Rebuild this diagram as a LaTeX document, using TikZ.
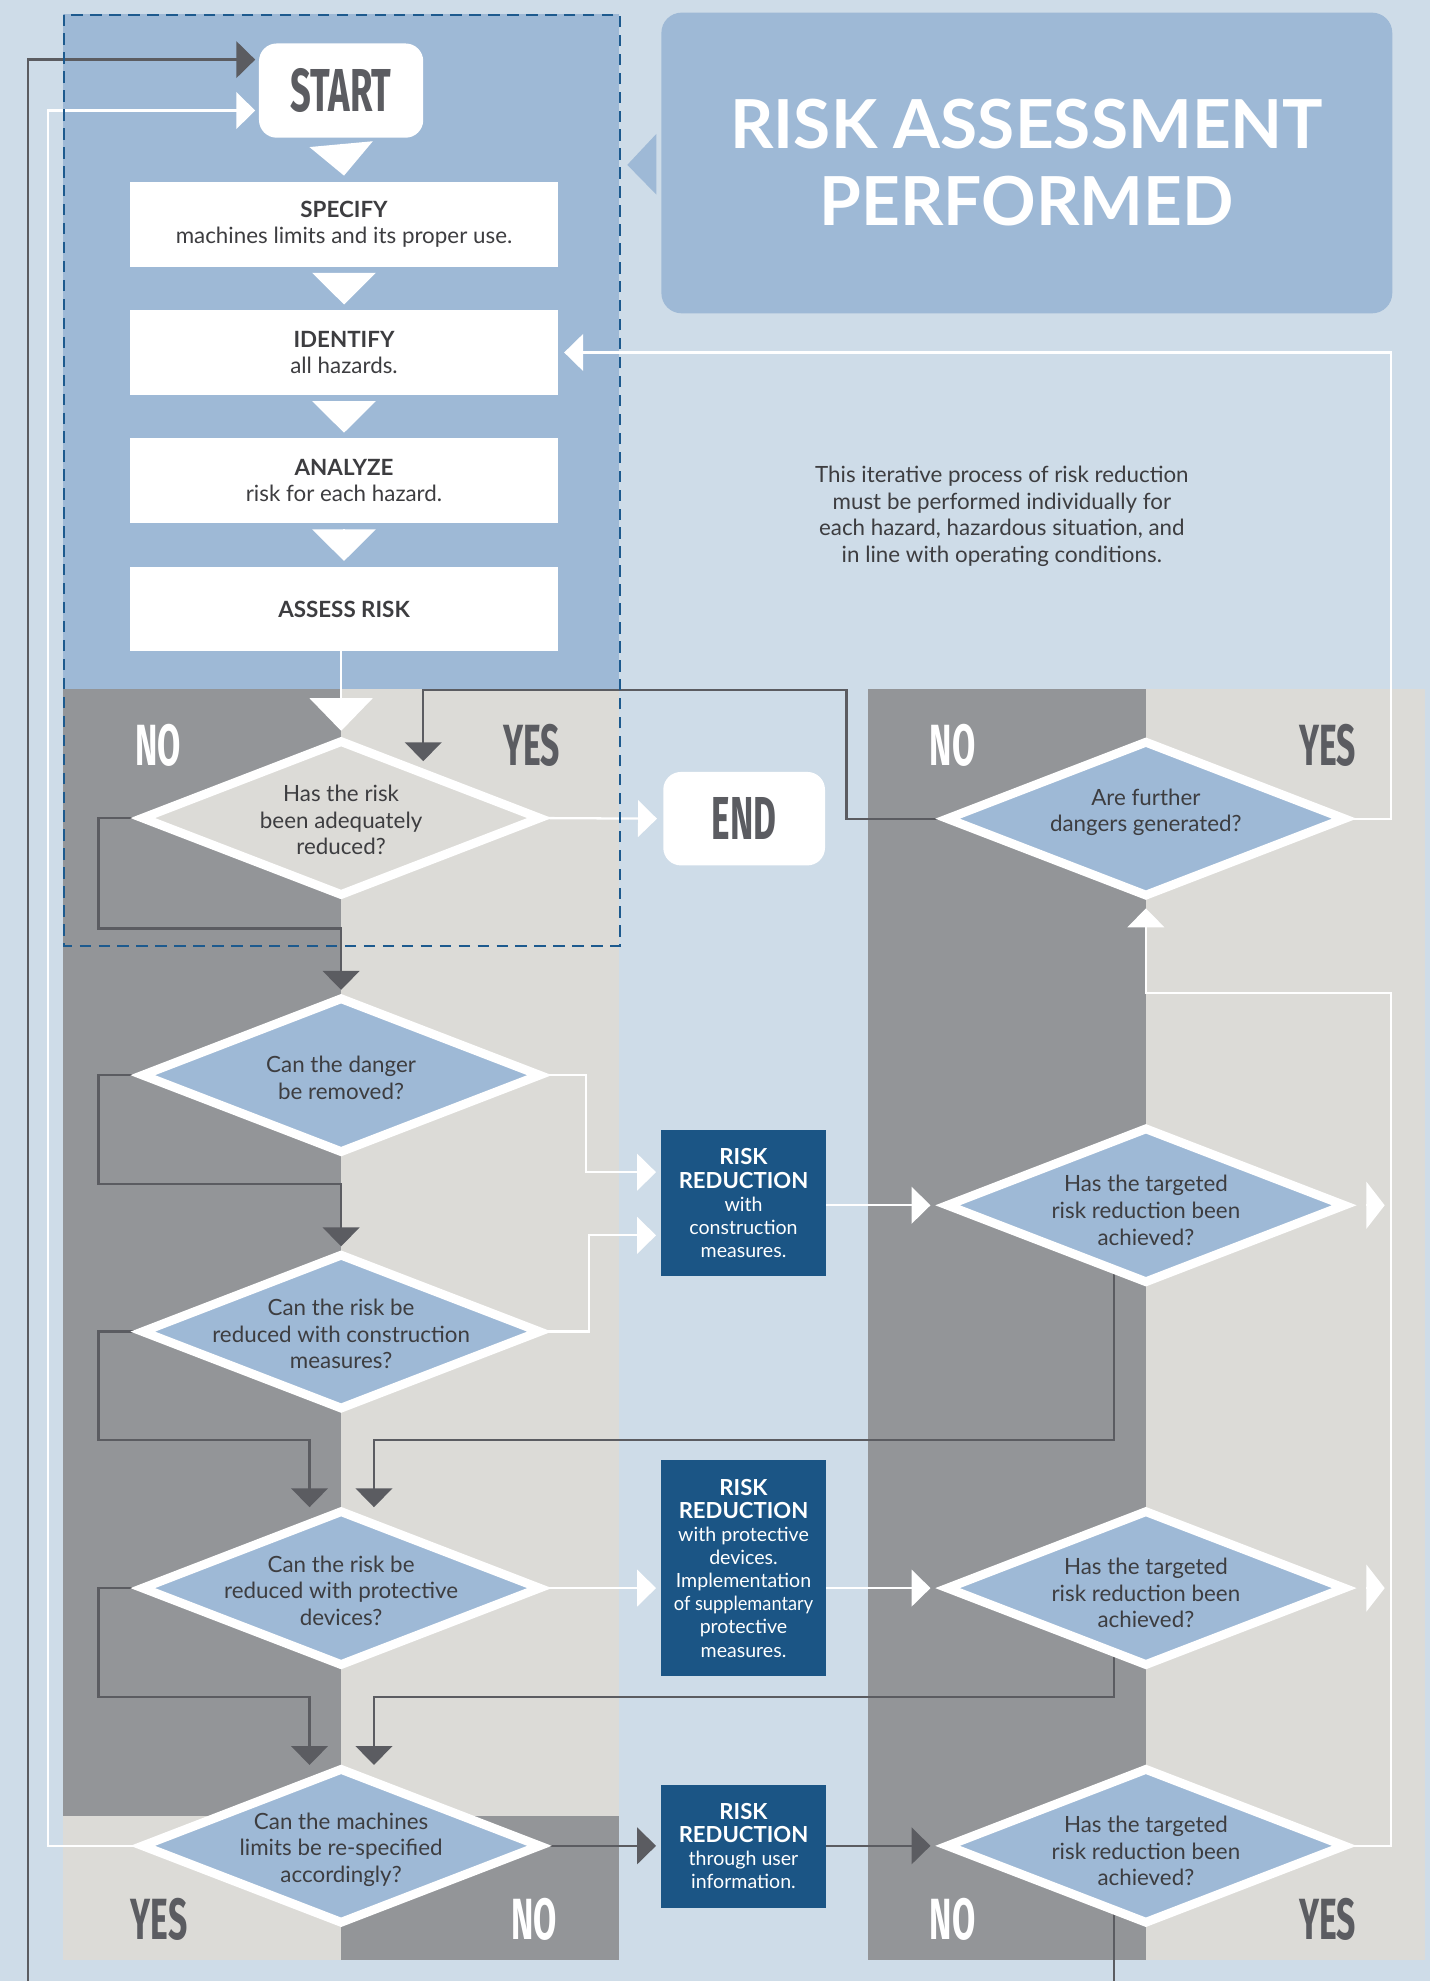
\documentclass[tikz,border=0pt]{standalone}
\usepackage{fontspec}
\usepackage{graphicx}
\usetikzlibrary{arrows.meta,calc,shapes.geometric}
\setmainfont{Lato}
\newfontfamily\condfont{Fira Sans}
\newcommand\condtxt[2][0.58]{\scalebox{#1}[1]{\condfont\bfseries #2}}
\definecolor{bgc}{HTML}{CEDCE8}
\definecolor{panel}{HTML}{9EB9D6}
\definecolor{dgr}{HTML}{939598}
\definecolor{lgr}{HTML}{DCDBD7}
\definecolor{dblue}{HTML}{1B5585}
\definecolor{lnc}{HTML}{5B5C61}
\definecolor{txtc}{HTML}{3D3D40}
\definecolor{dashc}{HTML}{1D5A8E}
\pgfdeclarelayer{back}
\pgfdeclarelayer{conn}
\pgfsetlayers{back,conn,main}
\tikzset{
  every node/.style={inner sep=0pt, outer sep=0pt},
  body/.style={font=\fontsize{17.7}{21}\selectfont, text=txtc, align=center},
  wbox/.style={body, fill=white, minimum width=338.5pt, minimum height=67pt},
  rbox/.style={fill=white, rounded corners=14pt, text=lnc, font=\fontsize{48}{48}\selectfont},
  dia/.style={shape=diamond, draw=white, line width=7pt, line join=miter, minimum width=314pt, minimum height=121pt},
  diablue/.style={dia, fill=panel},
  diagray/.style={dia, fill=lgr},
  rrbox/.style={fill=dblue, minimum width=130.5pt, text=white, align=center, font=\fontsize{15.5}{18.3}\selectfont},
  rrhead/.style={font=\fontsize{17.5}{20}\selectfont\bfseries},
  lab/.style={font=\fontsize{46}{46}\selectfont},
  labw/.style={lab, text=white},
  labd/.style={lab, text=lnc},
  dline/.style={draw=lnc, line width=1.8pt},
  wline/.style={draw=white, line width=1.8pt},
  darr/.style={dline, -{Triangle[length=15pt,width=29pt]}},
  warr/.style={wline, -{Triangle[length=15pt,width=29pt]}},
  wbig/.style={wline, -{Triangle[length=14.5pt,width=37pt]}},
  wtri/.style={wline, -{Triangle[length=25pt,width=50pt]}},
}
\newcommand\rrh{\fontsize{17.5}{20}\selectfont\bfseries}
\begin{document}
\begin{tikzpicture}[x=1pt,y=-1pt]
\useasboundingbox (0,0) rectangle (1132,1568);
\begin{pgfonlayer}{back}
\fill[bgc] (0,0) rectangle (1132,1568);
\fill[panel] (50,11) rectangle (490,545);
\fill[dgr] (50,545) rectangle (270,1437);
\fill[lgr] (270,545) rectangle (490,1437);
\fill[lgr] (50,1437) rectangle (270,1551);
\fill[dgr] (270,1437) rectangle (490,1551);
\fill[dgr] (687,545) rectangle (907,1551);
\fill[lgr] (907,545) rectangle (1128,1551);
\end{pgfonlayer}

% title
\node[fill=panel, rounded corners=16pt, minimum width=578.5pt, minimum height=238pt, text=white, align=center,
  font=\fontsize{53.5}{61}\selectfont\bfseries] (title) at (812.75,129) {RISK ASSESSMENT\\PERFORMED};
\begin{pgfonlayer}{back}
\fill[panel] ($(title.west)+(-4,-23)$) -- ($(title.west)+(-27,1.5)$) -- ($(title.west)+(-4,25)$) -- cycle;
\end{pgfonlayer}

% left column
\node[rbox, minimum width=130pt, minimum height=74.6pt] (start) at (270,71.7) {\condtxt[0.6]{START}};
\node[wbox] (spec) at (272.3,177.5) {{\bfseries SPECIFY}\\machines limits and its proper use.};
\node[wbox] (ident) at (272.3,279) {{\bfseries IDENTIFY}\\all hazards.};
\node[wbox] (anal) at (272.3,380.5) {{\bfseries ANALYZE}\\risk for each hazard.};
\node[wbox] (assess) at (272.3,482) {\bfseries ASSESS RISK};

\node[diagray] (d1) at (270,647.5) {};
\node[diablue] (d2) at (270,851) {};
\node[diablue] (d3) at (270,1054) {};
\node[diablue] (d4) at (270,1257) {};
\node[diablue] (d5) at (270,1461) {};
\node[body] (d1t) at (270,649) {Has the risk\\been adequately\\reduced?};
\node[body] (d2t) at (270,853) {Can the danger\\be removed?};
\node[body] (d3t) at (270,1056) {Can the risk be\\reduced with construction\\measures?};
\node[body] (d4t) at (270,1259) {Can the risk be\\reduced with protective\\devices?};
\node[body] (d5t) at (270,1464) {Can the machines\\limits be re-specified\\accordingly?};

% middle
\node[rbox, minimum width=128pt, minimum height=74pt] (end) at (589,648) {\condtxt{END}};
\node[body] (note) at (793,408.5) {This iterative process of risk reduction\\must be performed individually for\\each hazard, hazardous situation, and\\in line with operating conditions.};
\node[rrbox, minimum height=115.4pt] (rr1) at (588.5,952.3) {{\rrh RISK}\\{\rrh REDUCTION}\\with\\construction\\measures.};
\node[rrbox, minimum height=171pt] (rr2) at (588.5,1241.2) {{\rrh RISK}\\{\rrh REDUCTION}\\with protective\\devices.\\Implementation\\\scalebox{0.93}[1]{of supplemantary}\\protective\\measures.};
\node[rrbox, minimum height=97.5pt] (rr3) at (588.5,1461.3) {{\rrh RISK}\\{\rrh REDUCTION}\\through user\\information.};

% right column
\node[diablue] (r1) at (907,648) {};
\node[diablue] (r2) at (907,954) {};
\node[diablue] (r3) at (907,1257) {};
\node[diablue] (r4) at (907,1461) {};
\node[body] (r1t) at (907,643) {Are further\\dangers generated?};
\node[body] (r2t) at (907,958) {Has the targeted\\risk reduction been\\achieved?};
\node[body] (r3t) at (907,1261) {Has the targeted\\risk reduction been\\achieved?};
\node[body] (r4t) at (907,1465) {Has the targeted\\risk reduction been\\achieved?};

% labels
\node[labw] (no1) at (125,590) {\condtxt{NO}};
\node[labd] (yes1) at (421,590) {\condtxt{YES}};
\node[labw] (no2) at (754,590) {\condtxt{NO}};
\node[labd] (yes2) at (1051,590) {\condtxt{YES}};
\node[labd] (yes3) at (126,1519) {\condtxt{YES}};
\node[labw] (no3) at (423,1519) {\condtxt{NO}};
\node[labw] (no4) at (754,1519) {\condtxt{NO}};
\node[labd] (yes4) at (1051,1519) {\condtxt{YES}};

\coordinate (loopl) at (22,1568);
\coordinate (loopr) at (882,1568);

\begin{pgfonlayer}{conn}
% main sequence
\draw[wtri] ($(start.south)+(0,5)$) -- ($(spec.north)+(0,-5)$);
\draw[wtri] ($(spec.south)+(0,5)$) -- ($(ident.north)+(0,-4.5)$);
\draw[wtri] ($(ident.south)+(0,5)$) -- ($(anal.north)+(0,-4.5)$);
\draw[wtri] ($(anal.south)+(0,5)$) -- ($(assess.north)+(0,-4.5)$);
\draw[wline, -{Triangle[length=26pt,width=50pt]}] (assess.south -| d1.north) -- ($(d1.north)+(0,-8.5)$);
% d1
\draw[warr] (d1.east) -- ($(end.west)+(-5,0)$);
\draw[darr] (d1.west) -- (78,647.5) |- (270,735) -- ($(d2.north)+(0,-7)$);
% r1
\draw[darr] (r1.west) -| (670,546) -| ($(d1.north)+(65,15.5)$);
\draw[warr] (r1.east) -| (1101,279) -- ($(ident.east)+(5,0)$);
% d2, d3
\draw[darr] (d2.west) -- (78,851) |- (270,937) -- ($(d3.north)+(0,-7)$);
\draw[warr] (d2.east) -| (464,927.8) -- ($(rr1.west)+(-4,-24.5)$);
\draw[warr] (d3.east) -| (466,977.8) -- ($(rr1.west)+(-4,25.5)$);
\draw[darr] (d3.west) -- (78,1054) |- (245,1140) -- ($(d4.north)+(-25,-3.5)$);
\draw[warr] (rr1.east |- r2.west) -- ($(r2.west)+(-13.5,0)$);
\draw[darr] ($(r2.south)+(-25,-10)$) |- (296,1140) -- ($(d4.north)+(26,-3.5)$);
\draw[wbig] ($(r2.east)+(17.5,0)$) -- ($(r2.east)+(32,0)$);
% d4
\draw[warr, shorten >=4pt] (d4.east) -- (rr2.west |- d4.east);
\draw[warr] (rr2.east |- r3.west) -- ($(r3.west)+(-13.5,0)$);
\draw[darr] (d4.west) -- (78,1257) |- (245,1343) -- ($(d5.north)+(-25,-3.5)$);
\draw[darr] ($(r3.south)+(-25,-10)$) |- (296,1343) -- ($(d5.north)+(26,-3.5)$);
\draw[wbig] ($(r3.east)+(17.5,0)$) -- ($(r3.east)+(32,0)$);
% d5
\draw[darr, shorten >=4pt] (d5.east) -- (rr3.west |- d5.east);
\draw[darr] (rr3.east |- r4.west) -- ($(r4.west)+(-13.5,0)$);
\draw[warr] (d5.west) -| (38,87.5) -- ($(start.west)+(-3,15.8)$);
\draw[warr] (r4.east) -| (1101,786) -| ($(r1.south)+(0,10.5)$);
% loop
\draw[dline] ($(r4.south)+(-25,-10)$) -- (loopr);
\draw[darr] (loopl) |- ($(start.west)+(-3,-24.5)$);
% dashed frame
\draw[dashc, line width=1.6pt, dash pattern=on 9pt off 6pt] (50.5,11.5) rectangle (490.5,749);
\end{pgfonlayer}
\end{tikzpicture}
\end{document}
